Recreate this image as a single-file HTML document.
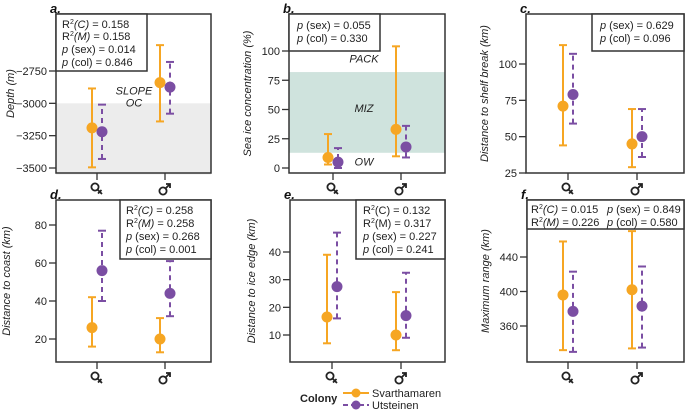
<!DOCTYPE html>
<html><head><meta charset="utf-8"><style>
html,body{margin:0;padding:0;background:#fff;}
svg{display:block;font-family:"Liberation Sans",Arial,sans-serif;}
</style></head><body>
<svg id="chart" width="685" height="412" viewBox="0 0 685 412" xmlns="http://www.w3.org/2000/svg"></svg>
<script>
const NS='http://www.w3.org/2000/svg';
const svg=document.getElementById('chart');
const sexCategories=['female','male'];
const colonies=['Svarthamaren','Utsteinen'];
const aMeanS=[-3190,-2840], aLowS=[-3495,-3140], aHighS=[-2885,-2550];
const aMeanU=[-3220,-2875], aLowU=[-3430,-3080], aHighU=[-3010,-2680];
const aTicks=[-2750,-3000,-3250,-3500];
const bMeanS=[9,33], bLowS=[3,10], bHighS=[29,104];
const bMeanU=[5,18], bLowU=[0,9], bHighU=[17,36];
const bTicks=[0,25,50,75,100];
const cMeanS=[71,45], cLowS=[44,29], cHighS=[113,69];
const cMeanU=[79,50], cLowU=[59,36], cHighU=[107,69];
const cTicks=[25,50,75,100];
const dMeanS=[26,20], dLowS=[16,13], dHighS=[42,31];
const dMeanU=[56,44], dLowU=[40,32], dHighU=[77,61];
const dTicks=[20,40,60,80];
const eMeanS=[16.5,10], eLowS=[7,4.5], eHighS=[39,25.5];
const eMeanU=[27.5,17], eLowU=[16,9], eHighU=[47,32.5];
const eTicks=[10,20,30,40];
const fMeanS=[396,402], fLowS=[332,334], fHighS=[458,470];
const fMeanU=[377,383], fLowU=[330,335], fHighU=[423,429];
const fTicks=[360,400,440];
const OR='#f6a623', PU='#7b4ea3';

function el(tag,attrs,parent,text){const e=document.createElementNS(NS,tag);for(const k in attrs)e.setAttribute(k,attrs[k]);if(text!==undefined)e.textContent=text;(parent||svg).appendChild(e);return e;}

function sexIcon(g,cx,cy,female){
  const s=el('g',{fill:'none',stroke:'#222','stroke-width':1.8},g);
  
  
  if(female){
    el('circle',{cx:cx-2,cy:cy-2,r:3.6},s);
    el('line',{x1:cx+0.6,y1:cy+0.6,x2:cx+5,y2:cy+5},s);
    el('line',{x1:cx+4.5,y1:cy+1,x2:cx+1,y2:cy+4.5},s);
  } else {
    el('circle',{cx:cx-2,cy:cy+2,r:3.6},s);
    el('line',{x1:cx+0.6,y1:cy-0.6,x2:cx+5,y2:cy-5},s);
    el('polyline',{points:`${cx+1},${cy-5} ${cx+5},${cy-5} ${cx+5},${cy-1}`},s);
  }
}

function panel(o){
  const g=el('g',{});
  
  
  const y=v=>o.py0+(v-o.v0)*(o.py1-o.py0)/(o.v1-o.v0);
  if(o.bands)o.bands.forEach(b=>{const r=el('rect',{x:o.L,y:y(b[1]),width:o.R-o.L,height:y(b[0])-y(b[1]),fill:b[2]},g);});
  if(o.bandLabels)o.bandLabels.forEach(b=>{const t=el('text',{x:b[0],y:y(b[1]),'font-size':11,'font-style':'italic','text-anchor':'middle',fill:'#222'},g,b[2]);});
  o.ticks.forEach(t=>{const yy=y(t);el('line',{x1:o.L-7,x2:o.L,y1:yy,y2:yy,stroke:'#333','stroke-width':1.3},g);
    const tl=el('text',{x:o.L-9,y:yy+4,'font-size':11,'text-anchor':'end',fill:'#222'},g,String(t).replace('-','\u2212'));
    });
  const xs=[o.xf,o.xm];
  xs.forEach((x,i)=>{el('line',{x1:x+5,x2:x+5,y1:o.B,y2:o.B+7,stroke:'#333','stroke-width':1.3},g);
    sexIcon(g,x+5,o.B+16,i==0);});
  const series=[[o.mS,o.lS,o.hS,OR,0,null],[o.mU,o.lU,o.hU,PU,10,'5,4']];
  series.forEach((s,si)=>{
    xs.forEach((x0,i)=>{const x=x0+s[4];
      const a={x1:x,x2:x,y1:y(s[1][i]),y2:y(s[2][i]),stroke:s[3],'stroke-width':2};if(s[5])a['stroke-dasharray']=s[5];
      const ln=el('line',a,g);
      [s[1][i],s[2][i]].forEach(v=>el('line',{x1:x-4,x2:x+4,y1:y(v),y2:y(v),stroke:s[3],'stroke-width':2},g));
      const c=el('circle',{cx:x,cy:y(s[0][i]),r:5.5,fill:s[3]},g);
      
    });
  });
  el('rect',{x:o.L,y:o.T,width:o.R-o.L,height:o.B-o.T,fill:'none',stroke:'#333','stroke-width':1.5},g);
  if(o.box){const b=o.box;const r=el('rect',{x:b[0],y:b[1],width:b[2]-b[0],height:b[3]-b[1],fill:'#fff',stroke:'#333','stroke-width':1.5},g);
    
    const tx=el('text',{'font-size':11,fill:'#222'},g);
    tx.innerHTML=b[4];}
  const lt=el('text',{x:o.L-6,y:o.T-1,'font-size':13,'font-weight':'bold','font-style':'italic',fill:'#111'},g,o.id+'.');
  
  const yc=(o.T+o.B)/2;
  const at=el('text',{x:o.tx,y:yc,'font-size':11,'font-style':'italic','text-anchor':'middle',fill:'#222',transform:`rotate(-90 ${o.tx} ${yc})`},g,o.title);
  
}
function ln(x,y,s){return `<tspan x="${x}" y="${y}">${s}</tspan>`;}
const R2C='R<tspan font-size="7" dy="-4">2</tspan><tspan dy="4" font-style="italic">(C)</tspan>';
const R2M='R<tspan font-size="7" dy="-4">2</tspan><tspan dy="4" font-style="italic">(M)</tspan>';
const PS='<tspan font-style="italic">p</tspan> (sex)', PC='<tspan font-style="italic">p</tspan> (col)';

panel({id:'a',L:56,R:211,T:14,B:173,v0:-2750,v1:-3500,py0:71,py1:168,xf:92,xm:160,
 mS:aMeanS,lS:aLowS,hS:aHighS,mU:aMeanU,lU:aLowU,hU:aHighU,ticks:aTicks,tx:14,title:'Depth (m)',
 bands:[[-3550,-3000,'#ececec']],bandLabels:[[134,-2930,'SLOPE'],[134,-3025,'OC']],
 box:[56,14,147,71,ln(62,28,R2C+' = 0.158')+ln(62,40,R2M+' = 0.158')+ln(62,53,PS+' = 0.014')+ln(62,66,PC+' = 0.846')]});
panel({id:'b',L:289,R:445,T:14,B:173,v0:0,v1:100,py0:168,py1:51,xf:328,xm:396,
 mS:bMeanS,lS:bLowS,hS:bHighS,mU:bMeanU,lU:bLowU,hU:bHighU,ticks:bTicks,tx:251,title:'Sea ice concentration (%)',
 bands:[[13,82,'#cfe3dd']],bandLabels:[[364,90,'PACK'],[364,48,'MIZ'],[364,2,'OW']],
 box:[289,14,380,51,ln(297,29,PS+' = 0.055')+ln(297,42,PC+' = 0.330')]});
panel({id:'c',L:526,R:684,T:14,B:173,v0:25,v1:100,py0:173,py1:64,xf:563,xm:632,
 mS:cMeanS,lS:cLowS,hS:cHighS,mU:cMeanU,lU:cLowU,hU:cHighU,ticks:cTicks,tx:488,title:'Distance to shelf break (km)',
 box:[592,14,684,51,ln(600,29,PS+' = 0.629')+ln(600,42,PC+' = 0.096')]});
panel({id:'d',L:56,R:211,T:200,B:362,v0:20,v1:80,py0:339,py1:225,xf:92,xm:160,
 mS:dMeanS,lS:dLowS,hS:dHighS,mU:dMeanU,lU:dLowU,hU:dHighU,ticks:dTicks,tx:10,title:'Distance to coast (km)',
 box:[120,200,211,259,ln(126,214,R2C+' = 0.258')+ln(126,227,R2M+' = 0.258')+ln(126,240,PS+' = 0.268')+ln(126,253,PC+' = 0.001')]});
panel({id:'e',L:290,R:445,T:200,B:362,v0:10,v1:40,py0:335,py1:252,xf:327,xm:396,
 mS:eMeanS,lS:eLowS,hS:eHighS,mU:eMeanU,lU:eLowU,hU:eHighU,ticks:eTicks,tx:255,title:'Distance to ice edge (km)',
 box:[356,200,445,259,ln(363,214,'R<tspan font-size="7" dy="-4">2</tspan><tspan dy="4">(C) = 0.132</tspan>')+ln(363,227,'R<tspan font-size="7" dy="-4">2</tspan><tspan dy="4">(M) = 0.317</tspan>')+ln(363,240,PS+' = 0.227')+ln(363,253,PC+' = 0.241')]});
panel({id:'f',L:527,R:684,T:200,B:362,v0:360,v1:440,py0:326,py1:257,xf:563,xm:632,
 mS:fMeanS,lS:fLowS,hS:fHighS,mU:fMeanU,lU:fLowU,hU:fHighU,ticks:fTicks,tx:489,title:'Maximum range (km)',
 box:[527,200,684,229,ln(531,213,R2C+' = 0.015')+ln(531,226,R2M+' = 0.226')+ln(607,213,PS+' = 0.849')+ln(607,226,PC+' = 0.580')]});

const lg=el('g',{});


const lt=el('text',{x:300,y:402,'font-size':11,'font-weight':'bold',fill:'#222'},lg,'Colony');

const e1=el('g',{},lg);


el('line',{x1:343,x2:369,y1:393,y2:393,stroke:OR,'stroke-width':2},e1);
el('circle',{cx:356,cy:393,r:4.5,fill:OR},e1);
el('text',{x:372,y:397,'font-size':11,fill:'#222'},e1,'Svarthamaren');
const e2=el('g',{},lg);


el('line',{x1:343,x2:369,y1:405,y2:405,stroke:PU,'stroke-width':2,'stroke-dasharray':'5,3'},e2);
el('circle',{cx:356,cy:405,r:4.5,fill:PU},e2);
el('text',{x:372,y:409,'font-size':11,fill:'#222'},e2,'Utsteinen');
</script>
</body></html>
